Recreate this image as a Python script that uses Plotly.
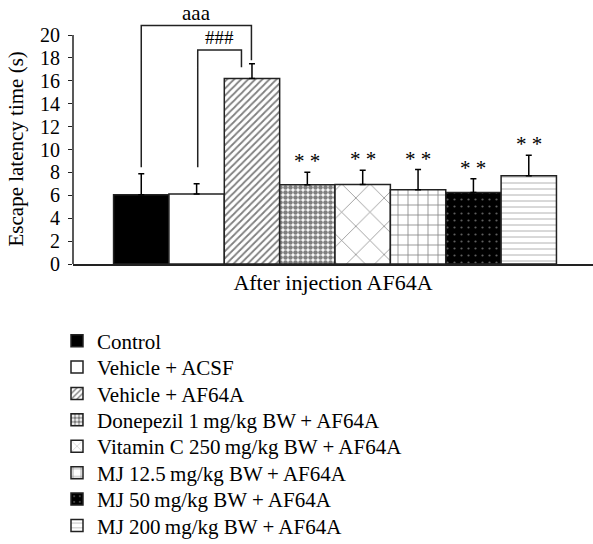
import plotly.graph_objects as go

# ---- data ----
groups = ["Control", "Vehicle + ACSF", "Vehicle + AF64A",
          "Donepezil 1\u2009mg/kg BW\u2009+ AF64A",
          "Vitamin C 250\u2009mg/kg BW + AF64A",
          "MJ 12.5\u2009mg/kg BW\u2009+ AF64A",
          "MJ 50\u2009mg/kg BW + AF64A",
          "MJ 200\u2009mg/kg BW + AF64A"]
means = [6.05, 6.12, 16.2, 6.93, 6.94, 6.48, 6.24, 7.7]
sems = [1.83, 0.88, 1.28, 1.09, 1.25, 1.77, 1.2, 1.8]
stars = ["", "", "", "* *", "* *", "* *", "* *", "* *"]
x_title = "After injection AF64A"
y_title = "Escape latency time (s)"
y_ticks = [0, 2, 4, 6, 8, 10, 12, 14, 16, 18, 20]

# ---- styles ----
FONT = "Liberation Serif"
fills = [
    dict(color="black"),
    dict(color="white"),
    dict(color="white", pattern=dict(shape="/", fgcolor="black", bgcolor="white", size=5, solidity=0.35)),
    dict(color="white", pattern=dict(shape=".", fgcolor="black", bgcolor="white", size=5, solidity=0.65)),
    dict(color="white", pattern=dict(shape="x", fgcolor="black", bgcolor="white", size=20, solidity=0.07)),
    dict(color="white", pattern=dict(shape="+", fgcolor="black", bgcolor="white", size=10, solidity=0.15)),
    dict(color="black", pattern=dict(shape=".", fgcolor="#bbbbbb", bgcolor="black", size=7, solidity=0.08)),
    dict(color="white", pattern=dict(shape="-", fgcolor="#555555", bgcolor="white", size=6, solidity=0.15)),
]

fig = go.Figure()
legend_ids = ["legend"] + ["legend%d" % (i + 1) for i in range(1, len(groups))]
for i, g in enumerate(groups):
    m = dict(fills[i])
    m["line"] = dict(color="#222222", width=1.5)
    fig.add_trace(go.Bar(
        x=[g], y=[means[i]], name=g, width=1, marker=m,
        error_y=dict(type="data", array=[sems[i]], arrayminus=[0], symmetric=False,
                     color="black", thickness=1.5, width=3),
        legend=legend_ids[i], showlegend=True,
    ))

# legends: one per entry, stacked
first_y, step = 341, 26.4
for i, lid in enumerate(legend_ids):
    fig.update_layout({lid: dict(
        xref="container", yref="container", x=57 / 593, xanchor="left",
        y=1 - (first_y + step * i) / 544, yanchor="middle",
        font=dict(family=FONT, size=21, color="black"),
        bgcolor="rgba(0,0,0,0)", borderwidth=0,
    )})

# significance stars
for i, s in enumerate(stars):
    if s:
        fig.add_annotation(x=groups[i], y=means[i] + sems[i], text=s, showarrow=False,
                           yanchor="bottom", yshift=-3,
                           font=dict(family=FONT, size=21, color="black"))

# brackets (aaa: Control vs Vehicle+AF64A ; ###: Vehicle+ACSF vs Vehicle+AF64A)
line = dict(color="#222222", width=1.5)
fig.add_shape(type="path", xref="x", yref="y",
              path="M 0,8.45 L 0,20.83 L 1.99,20.83 L 1.99,17.8", line=line)
fig.add_shape(type="path", xref="x", yref="y",
              path="M 1.02,8.45 L 1.02,18.7 L 1.81,18.7 L 1.81,17.19", line=line)
fig.add_annotation(x=1, y=20.83, text="aaa", showarrow=False, yanchor="bottom", yshift=-2,
                   font=dict(family=FONT, size=21, color="black"))
fig.add_annotation(x=1.42, y=18.7, text="###", showarrow=False, yanchor="bottom", yshift=0,
                   font=dict(family=FONT, size=19, color="black"))

# y axis line only up to 20
fig.add_shape(type="line", xref="paper", yref="y", x0=0, x1=0, y0=0, y1=20,
              line=dict(color="#222222", width=1.5))

# y-axis title
fig.add_annotation(xref="paper", yref="y", x=-58 / 520, y=10, text=y_title, textangle=-90,
                   showarrow=False, xanchor="center", yanchor="middle",
                   font=dict(family=FONT, size=21, color="black"))

fig.update_layout(
    width=593, height=544,
    margin=dict(l=73, r=0, t=0, b=280, autoexpand=False),
    paper_bgcolor="white", plot_bgcolor="white",
    barmode="overlay",
    font=dict(family=FONT, color="black"),
    xaxis=dict(type="category", categoryorder="array", categoryarray=groups,
               range=[-1.233, 8.16], showticklabels=False, ticks="",
               showline=True, linecolor="#222222", linewidth=1.5, showgrid=False, zeroline=False,
               title=dict(text=x_title, font=dict(family=FONT, size=22), standoff=10)),
    yaxis=dict(range=[0, 264 / 11.45], tickvals=y_ticks, ticks="outside", ticklen=4,
               tickcolor="#222222", tickwidth=1.2, showline=False, showgrid=False, zeroline=False,
               tickfont=dict(family=FONT, size=20), ticklabelstandoff=4),
)

fig.write_html("out.html")
